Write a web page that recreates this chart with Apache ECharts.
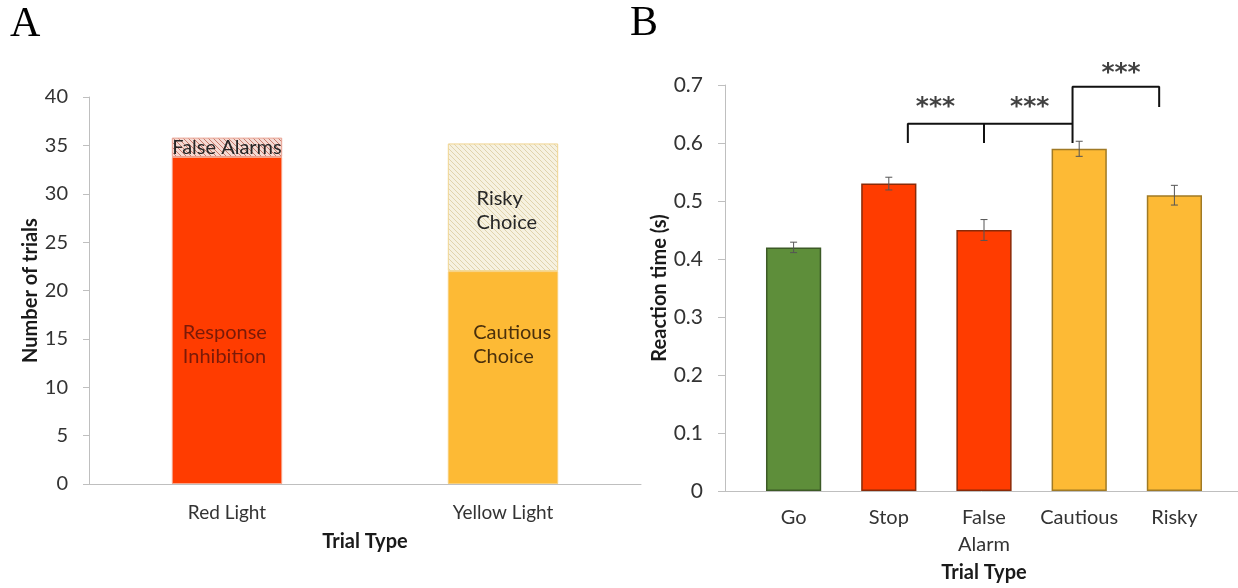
<!DOCTYPE html>
<html>
<head>
<meta charset="utf-8">
<script src="https://cdn.jsdelivr.net/npm/echarts@6/dist/echarts.min.js"></script>
<style>
html,body{margin:0;padding:0;background:#fff;}
#c{width:1238px;height:588px;}
</style>
</head>
<body>
<div id="c"></div>
<script>
// ---------- Data ----------
const catsA = ['Red Light', 'Yellow Light'];
const lowerA = [33.8, 22.0];            // Response Inhibition, Cautious Choice
const upperA = [2.0, 13.2];             // False Alarms, Risky Choice
const lowerNamesA = ['Response\nInhibition', 'Cautious\nChoice'];
const upperNamesA = ['False Alarms', 'Risky\nChoice'];
const ticksA = [0, 5, 10, 15, 20, 25, 30, 35, 40];

const catsB = ['Go', 'Stop', 'False\nAlarm', 'Cautious', 'Risky'];
const rtB = [0.42, 0.53, 0.45, 0.59, 0.51];
const errB = [0.009, 0.011, 0.018, 0.013, 0.017];
const ticksB = [0, 0.1, 0.2, 0.3, 0.4, 0.5, 0.6, 0.7];

// significance brackets (x in category units, y in seconds)
const bracketLowX = [1.2, 2.0, 2.93];
const bracketLowY = [0.6, 0.633];
const bracketHighX = [2.93, 3.84];
const bracketHighY = [0.697, 0.662];
const starsPos = [[1.49, 0.661], [2.48, 0.661], [3.44, 0.719]];

// ---------- Styles ----------
const FONT = 'Lato, "Open Sans", sans-serif';
const RED = '#FF3C00', YEL = '#FDBA35', GRN = '#5E8E3A';
const barColorsB = [GRN, RED, RED, YEL, YEL];
const barBordersB = ['#3C5A26', '#8A2A08', '#8A2A08', '#A07A25', '#A07A25'];

function hatch(bg, fg) {
  const c = document.createElement('canvas');
  c.width = 5; c.height = 5;
  const g = c.getContext('2d');
  g.fillStyle = bg; g.fillRect(0, 0, 5, 5);
  g.strokeStyle = fg; g.lineWidth = 1;
  g.beginPath();
  g.moveTo(0, 0); g.lineTo(5, 5);
  g.moveTo(-3, 2); g.lineTo(3, 8);
  g.moveTo(2, -3); g.lineTo(8, 3);
  g.stroke();
  return { image: c, repeat: 'repeat' };
}
const hatchRed = hatch('#F4DAD3', '#C77A6C');
const hatchYel = hatch('#F6F1E0', '#E0D3AC');

const lowerStyles = [
  { color: RED, borderColor: '#F7A48A', borderWidth: 1 },
  { color: YEL, borderColor: '#F8CF7A', borderWidth: 1 }
];
const upperStyles = [
  { color: hatchRed, borderColor: '#E8A090', borderWidth: 1 },
  { color: hatchYel, borderColor: '#F1D590', borderWidth: 1 }
];
const lowerLabels = [
  { color: '#7A1A08', position: ['10%', '50%'] },
  { color: '#4A300C', position: ['23%', '23%'] }
];
const upperLabels = [
  { color: '#262626', position: 'inside', align: 'center', verticalAlign: 'middle' },
  { color: '#262626', position: ['26%', '34%'] }
];

const tickLabel = { fontFamily: FONT, fontSize: 19, color: '#333333' };
const axisGray = { lineStyle: { color: '#BFBFBF', width: 1 } };
const nameStyle = { fontFamily: FONT, fontSize: 20, fontWeight: 'bold', color: '#1A1A1A' };

const chart = echarts.init(document.getElementById('c'), null, { renderer: 'canvas' });

const option = {
  animation: false,
  backgroundColor: '#ffffff',
  graphic: [
    { type: 'text', left: 10, top: 4, style: { text: 'A', font: '42px "Liberation Serif", serif', fill: '#000' } },
    { type: 'text', left: 630, top: 3, style: { text: 'B', font: '42px "Liberation Serif", serif', fill: '#000' } }
  ],
  grid: [
    { left: 89, width: 552, top: 97, height: 387 },
    { left: 746, width: 476, top: 85, height: 406 },
    { left: 725, right: 0, top: 85, height: 406 }
  ],
  xAxis: [
    {
      type: 'category', gridIndex: 0, data: catsA,
      axisLine: axisGray, axisTick: { show: false },
      axisLabel: Object.assign({ margin: 19, interval: 0 }, tickLabel, { fontSize: 19 }),
      name: 'Trial Type', nameLocation: 'middle', nameGap: 48, nameTextStyle: nameStyle
    },
    {
      type: 'category', gridIndex: 1, data: catsB,
      axisLine: { show: false }, axisTick: { show: false },
      axisLabel: Object.assign({ margin: 13, lineHeight: 27, interval: 0, hideOverlap: false }, tickLabel, { fontSize: 20 }),
      name: 'Trial Type', nameLocation: 'middle', nameGap: 71, nameTextStyle: nameStyle
    },
    {
      type: 'value', gridIndex: 2, min: 0, max: 1,
      axisLine: { show: true, lineStyle: { color: '#BFBFBF', width: 1 } },
      axisTick: { show: false }, axisLabel: { show: false }, splitLine: { show: false }
    },
    {
      type: 'value', gridIndex: 1, min: -0.5, max: 4.5, show: false
    }
  ],
  yAxis: [
    {
      type: 'value', gridIndex: 0, min: 0, max: 40, interval: 5,
      axisLine: { show: true, lineStyle: { color: '#BFBFBF' } },
      axisTick: { show: true, length: 6, lineStyle: { color: '#BFBFBF' } },
      splitLine: { show: false },
      axisLabel: Object.assign({ margin: 21, formatter: v => (ticksA.indexOf(v) >= 0 ? String(v) : '') }, tickLabel, { fontSize: 20 }),
      name: 'Number of trials', nameLocation: 'middle', nameGap: 45, nameTextStyle: nameStyle
    },
    {
      type: 'value', gridIndex: 1, min: 0, max: 0.7, show: false
    },
    {
      type: 'value', gridIndex: 2, min: 0, max: 0.7, interval: 0.1,
      axisLine: { show: true, lineStyle: { color: '#BFBFBF' } },
      axisTick: { show: true, length: 7, lineStyle: { color: '#BFBFBF' } },
      splitLine: { show: false },
      axisLabel: Object.assign({
        margin: 22,
        formatter: v => {
          const r = parseFloat(v.toFixed(1));
          return ticksB.indexOf(r) >= 0 ? (r === 0 ? '0' : r.toFixed(1)) : '';
        }
      }, tickLabel, { fontSize: 21 }),
      name: 'Reaction time (s)', nameLocation: 'middle', nameGap: 55, nameTextStyle: nameStyle
    }
  ],
  series: [
    // Panel A stacked bars
    {
      type: 'bar', xAxisIndex: 0, yAxisIndex: 0, stack: 'a', barWidth: '40%',
      data: lowerA.map((v, i) => ({
        value: v, itemStyle: lowerStyles[i],
        label: Object.assign({
          show: true, formatter: lowerNamesA[i], align: 'left', verticalAlign: 'top',
          fontFamily: FONT, fontSize: 20, lineHeight: 24
        }, lowerLabels[i])
      }))
    },
    {
      type: 'bar', xAxisIndex: 0, yAxisIndex: 0, stack: 'a', barWidth: '40%',
      data: upperA.map((v, i) => ({
        value: v, itemStyle: upperStyles[i],
        label: Object.assign({
          show: true, formatter: upperNamesA[i], align: 'left', verticalAlign: 'top',
          fontFamily: FONT, fontSize: 20, lineHeight: 24
        }, upperLabels[i])
      }))
    },
    // Panel B bars
    {
      type: 'bar', xAxisIndex: 1, yAxisIndex: 1, barWidth: '58%',
      data: rtB.map((v, i) => ({
        value: v, itemStyle: { color: barColorsB[i], borderColor: barBordersB[i], borderWidth: 1.5 }
      }))
    },
    // Error bars
    {
      type: 'custom', xAxisIndex: 1, yAxisIndex: 1, z: 5,
      data: rtB.map((v, i) => [i, v, errB[i]]),
      renderItem: function (params, api) {
        const x = api.value(0), y = api.value(1), e = api.value(2);
        const hi = api.coord([x, y + e]);
        const lo = api.coord([x, y - e]);
        const w = 3.5;
        const st = { stroke: '#555555', lineWidth: 1 };
        return {
          type: 'group',
          children: [
            { type: 'line', shape: { x1: hi[0], y1: hi[1], x2: lo[0], y2: lo[1] }, style: st },
            { type: 'line', shape: { x1: hi[0] - w, y1: hi[1], x2: hi[0] + w, y2: hi[1] }, style: st },
            { type: 'line', shape: { x1: lo[0] - w, y1: lo[1], x2: lo[0] + w, y2: lo[1] }, style: st }
          ]
        };
      }
    },
    // Brackets
    {
      type: 'line', xAxisIndex: 3, yAxisIndex: 1, symbol: 'none', clip: false,
      lineStyle: { color: '#111', width: 2 },
      data: [[bracketLowX[0], bracketLowY[0]], [bracketLowX[0], bracketLowY[1]], [bracketLowX[2], bracketLowY[1]]]
    },
    {
      type: 'line', xAxisIndex: 3, yAxisIndex: 1, symbol: 'none', clip: false,
      lineStyle: { color: '#111', width: 2 },
      data: [[bracketLowX[1], bracketLowY[0]], [bracketLowX[1], bracketLowY[1]]]
    },
    {
      type: 'line', xAxisIndex: 3, yAxisIndex: 1, symbol: 'none', clip: false,
      lineStyle: { color: '#111', width: 2 },
      data: [[bracketHighX[0], bracketLowY[0]], [bracketHighX[0], bracketHighY[0]], [bracketHighX[1], bracketHighY[0]], [bracketHighX[1], bracketHighY[1]]]
    },
    // Stars
    {
      type: 'scatter', xAxisIndex: 3, yAxisIndex: 1, symbolSize: 1, clip: false,
      itemStyle: { color: 'rgba(0,0,0,0)' },
      label: { show: true, position: 'inside', formatter: '***', fontFamily: '"DejaVu Sans", sans-serif', fontSize: 25, fontWeight: 'bold', color: '#111' },
      data: starsPos
    }
  ]
};
chart.setOption(option);
</script>
</body>
</html>
